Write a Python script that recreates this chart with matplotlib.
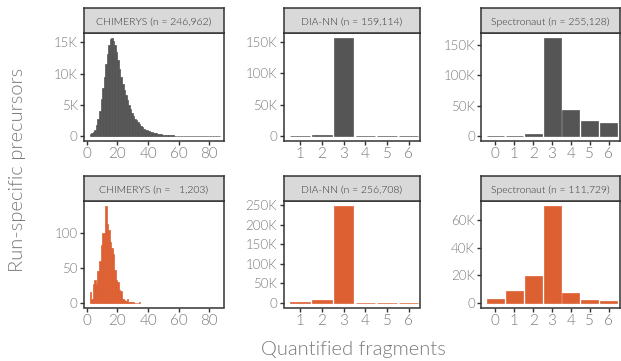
import matplotlib
matplotlib.use('Agg')
import matplotlib.pyplot as plt
from matplotlib.ticker import FuncFormatter
import numpy as np

plt.rcParams['font.family'] = ['Lato', 'DejaVu Sans']
plt.rcParams['font.weight'] = 300

# ------------------------------------------------------------
# data
# ------------------------------------------------------------
# CHIMERYS histogram, run-specific precursors per number of quantified fragments
chim_top_k = list(range(2, 87))
chim_top_counts = [300, 450, 650, 1050, 1800, 2800, 4000, 5900, 7700, 9500,
                   11500, 13200, 14600, 15500, 15700, 15200, 14500, 13500, 12200, 10800,
                   9400, 8300, 7300, 6500, 5800, 5000, 4300, 3700, 3200, 2800,
                   2500, 2200, 1900, 1600, 1400, 1200, 1050, 900, 800, 700,
                   600, 550, 500, 450, 400, 350, 300, 250, 200, 180,
                   160, 140, 120, 110, 100, 90, 80, 75, 70, 65,
                   60, 55, 50, 48, 45, 42, 40, 38, 36, 34,
                   32, 30, 28, 26, 25, 24, 22, 20, 20, 18,
                   0, 0, 15, 15, 12]

chim_bot_k = list(range(2, 35))
chim_bot_counts = [15, 5, 26, 33, 26, 45, 60, 82, 100, 100,
                   138, 112, 103, 86, 78, 70, 46, 32, 30, 18,
                   16, 5, 4, 2, 5, 1, 1, 1, 1, 0,
                   0, 0, 1]

diann_k = [1, 2, 3, 4, 5, 6]
diann_top = [14, 1100, 156200, 800, 600, 400]
diann_bot = [600, 6800, 248500, 400, 250, 158]

spectro_k = [0, 1, 2, 3, 4, 5, 6]
spectro_top = [328, 500, 3500, 162000, 43000, 24800, 21000]
spectro_bot = [2900, 8600, 19200, 70529, 7200, 2100, 1200]

titles_top = ['CHIMERYS (n = 246,962)', 'DIA-NN (n = 159,114)', 'Spectronaut (n = 255,128)']
titles_bot = ['CHIMERYS (n =   1,203)', 'DIA-NN (n = 256,708)', 'Spectronaut (n = 111,729)']

yticks_top = [[0, 5000, 10000, 15000], [0, 50000, 100000, 150000], [0, 50000, 100000, 150000]]
yticks_bot = [[0, 50, 100], [0, 50000, 100000, 150000, 200000, 250000], [0, 20000, 40000, 60000]]

# ------------------------------------------------------------
# style
# ------------------------------------------------------------
DARK = '#555555'
ORANGE = '#DD6033'
EDGE = '#333333'
TXT = '#7a7a7a'

W, H = 621, 361
fig = plt.figure(figsize=(W / 100, H / 100), dpi=100)

cols = [(84, 224), (283.5, 419.5), (481, 620)]
rows = [(8, 33, 141), (176, 201, 307.5)]  # strip top, plot top, plot bottom


def kfmt(v, pos):
    if v == 0:
        return '0'
    if v >= 1000:
        return f'{int(round(v / 1000))}K'
    return f'{int(v)}'


def make_panel(ci, ri, title):
    x0, x1 = cols[ci]
    st, pt, pb = rows[ri]
    ax = fig.add_axes([x0 / W, 1 - pb / H, (x1 - x0) / W, (pb - pt) / H])
    sax = fig.add_axes([x0 / W, 1 - pt / H, (x1 - x0) / W, (pt - st) / H])
    sax.set_facecolor('#d9d9d9')
    sax.set_xticks([])
    sax.set_yticks([])
    for s in sax.spines.values():
        s.set_color(EDGE)
        s.set_linewidth(1.1)
    sax.text(0.5, 0.45, title, ha='center', va='center', fontsize=7.5,
             color='#333333', transform=sax.transAxes)
    for s in ax.spines.values():
        s.set_color(EDGE)
        s.set_linewidth(1.1)
    ax.tick_params(axis='both', color=EDGE, length=3, width=1)
    ax.tick_params(axis='y', labelsize=9.5, labelcolor=TXT, pad=1.5)
    ax.tick_params(axis='x', labelsize=11, labelcolor=TXT, pad=1.5)
    ax.yaxis.set_major_formatter(FuncFormatter(kfmt))
    return ax


def draw(ax, k, counts, color, width, align='center'):
    ax.bar(k, counts, width=width, align=align, color=color,
           edgecolor=color, linewidth=0.5)
    ax.set_ylim(-0.05 * max(counts), 1.05 * max(counts))


# top row
ax = make_panel(0, 0, titles_top[0])
draw(ax, chim_top_k, chim_top_counts, DARK, 1, 'edge')
ax.set_xlim(-1.8, 89.6)
ax.set_xticks([0, 20, 40, 60, 80])
ax.set_yticks(yticks_top[0])

ax = make_panel(1, 0, titles_top[1])
draw(ax, diann_k, diann_top, DARK, 0.9)
ax.set_xlim(0.23, 6.5)
ax.set_xticks(diann_k)
ax.set_yticks(yticks_top[1])

ax = make_panel(2, 0, titles_top[2])
draw(ax, spectro_k, spectro_top, DARK, 0.9)
ax.set_xlim(-0.76, 6.6)
ax.set_xticks(spectro_k)
ax.set_yticks(yticks_top[2])

# bottom row
ax = make_panel(0, 1, titles_bot[0])
draw(ax, chim_bot_k, chim_bot_counts, ORANGE, 1, 'edge')
ax.set_xlim(-1.8, 89.6)
ax.set_xticks([0, 20, 40, 60, 80])
ax.set_yticks(yticks_bot[0])

ax = make_panel(1, 1, titles_bot[1])
draw(ax, diann_k, diann_bot, ORANGE, 0.9)
ax.set_xlim(0.23, 6.5)
ax.set_xticks(diann_k)
ax.set_yticks(yticks_bot[1])

ax = make_panel(2, 1, titles_bot[2])
draw(ax, spectro_k, spectro_bot, ORANGE, 0.9)
ax.set_xlim(-0.76, 6.6)
ax.set_xticks(spectro_k)
ax.set_yticks(yticks_bot[2])

fig.text(18 / W, 1 - 170 / H, 'Run-specific precursors', rotation=90, ha='center',
         va='center', fontsize=14.5, color=TXT)
fig.text(353 / W, 1 - 350 / H, 'Quantified fragments', ha='center', va='center',
         fontsize=14.5, color=TXT)

fig.savefig('out.png', dpi=100)
